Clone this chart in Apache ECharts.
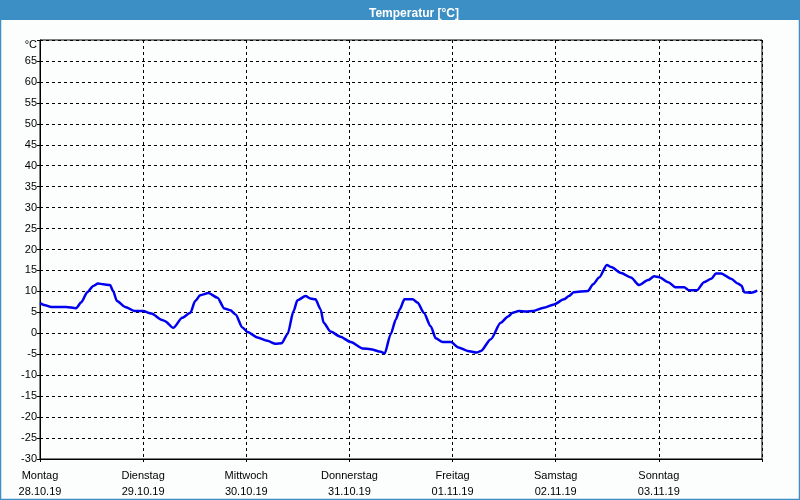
<!DOCTYPE html>
<html>
<head>
<meta charset="utf-8">
<script src="https://cdn.jsdelivr.net/npm/echarts@6/dist/echarts.min.js"></script>
<style>
html,body{margin:0;padding:0;background:#fff;}
#c{width:800px;height:500px;}
</style>
</head>
<body>
<div id="c"></div>
<script>
// Hours since Monday 28.10.19 00:00
var hours = [0,1.2,2.6,6.1,8.4,9.6,11.0,12.4,13.5,14.7,16.3,17.0,17.9,19.8,22.1,24.0,25.9,28.4,29.1,31.0,33.1,35.0,36.1,37.3,39.2,41.3,42.9,44.3,45.5,47.1,48.3,50.6,52.9,54.8,56.2,57.6,59.0,59.9,61.8,62.9,64.1,65.3,66.0,67.6,69.9,72.3,75.1,76.9,79.3,80.2,81.6,82.8,83.7,84.8,86.7,87.9,89.3,90.9,92.1,93.7,95.6,97.4,99.5,101.6,102.6,104.9,107.2,108.9,110.0,111.4,113.1,114.7,117.2,119.6,121.9,123.1,124.2,127.5,128.7,130.1,131.9,132.9,135.2,137.5,139.4,141.5,142.9,144.1,146.2,147.8,149.9,151.0,152.9,154.5,156.2,157.3,158.5,160.8,162.5,163.2,163.9,165.5,166.9];
var temps = [7.2,6.7,6.3,6.3,6.0,7.4,9.8,11.3,11.9,11.7,11.5,10.1,7.7,6.3,5.3,5.3,4.7,3.2,2.9,1.3,3.7,4.9,7.7,9.1,9.6,8.5,5.9,5.5,4.5,1.4,0.3,-1.0,-1.8,-2.5,-2.4,-0.2,5.3,7.9,8.9,8.3,8.1,5.7,2.5,0.4,-0.8,-2.1,-3.6,-3.8,-4.4,-4.8,-0.2,3.3,5.7,8.1,8.1,7.3,4.9,1.7,-1.2,-2.1,-2.1,-3.4,-4.2,-4.6,-4.2,-1.4,2.5,4.0,4.9,5.3,5.2,5.3,6.1,6.9,8.1,8.9,9.8,10.1,11.7,13.3,16.3,15.8,14.4,13.3,11.5,12.7,13.6,13.4,12.2,11.0,11.0,10.3,10.3,12.2,13.0,14.3,14.3,13.0,11.8,11.4,9.8,9.7,10.2];
var dayNames = ['Montag','Dienstag','Mittwoch','Donnerstag','Freitag','Samstag','Sonntag'];
var dayDates = ['28.10.19','29.10.19','30.10.19','31.10.19','01.11.19','02.11.19','03.11.19'];
var titleText = 'Temperatur [°C]';
var unitLabel = '°C';

var data = hours.map(function(h,i){return [h,temps[i]];});
var chart = echarts.init(document.getElementById('c'), null, {renderer:'canvas'});
var fontFam = 'Liberation Sans';
chart.setOption({
  backgroundColor:'#fcfefd',
  animation:false,
  title:{text:titleText,left:364,top:3,textStyle:{color:'#fff',fontSize:12,fontWeight:'bold',fontFamily:fontFam}},
  graphic:[
    {type:'rect',z:-1,shape:{x:0,y:0,width:800,height:20},style:{fill:'#3c8fc4'}},
    {type:'rect',z:-1,shape:{x:0.5,y:0.5,width:799,height:499},style:{fill:null,stroke:'#3c8fc4',lineWidth:1.5}}
  ],
  grid:{left:40,right:38,top:40,bottom:40,show:true,borderColor:'#000',borderWidth:1},
  xAxis:{
    type:'value',min:0,max:168,interval:24,
    axisLine:{show:true,onZero:false,lineStyle:{color:'#000',width:1}},
    axisTick:{show:true,length:3,lineStyle:{color:'#000'}},
    splitLine:{show:true,lineStyle:{color:'#000',type:[3,3],width:1}},
    axisLabel:{
      margin:9,color:'#000',fontSize:11,fontFamily:fontFam,lineHeight:16,
      formatter:function(v){var d=Math.round(v/24);return d<7?dayNames[d]+'\n'+dayDates[d]:'';}
    }
  },
  yAxis:{
    type:'value',min:-30,max:70,interval:5,
    axisLine:{show:true,onZero:false,lineStyle:{color:'#000',width:1}},
    axisTick:{show:true,length:3,lineStyle:{color:'#000'}},
    splitLine:{show:true,lineStyle:{color:'#000',type:[3,3],width:1}},
    axisLabel:{
      margin:3,color:'#000',fontSize:11,fontFamily:fontFam,
      formatter:function(v){return v===70?'{u|'+unitLabel+'}':String(v);},
      rich:{u:{fontSize:11,fontFamily:fontFam,color:'#000',padding:[10,0,0,0]}}
    }
  },
  series:[{
    type:'line',data:data,showSymbol:false,smooth:0.25,smoothMonotone:'x',
    lineStyle:{color:'#0000ee',width:2.5}
  }]
});
</script>
</body>
</html>
